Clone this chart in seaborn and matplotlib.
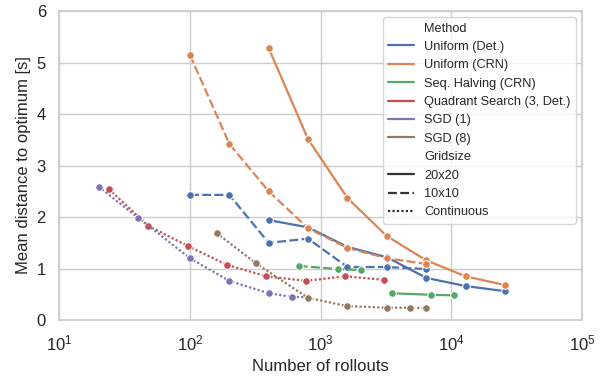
import pandas as pd
import matplotlib
matplotlib.use('Agg')
import matplotlib.pyplot as plt
import seaborn as sns

methods = ['Uniform (Det.)', 'Uniform (CRN)', 'Seq. Halving (CRN)',
           'Quadrant Search (3, Det.)', 'SGD (1)', 'SGD (8)']
gridsizes = ['20x20', '10x10', 'Continuous']

# Uniform (Det.)
unif_det_20_x = [400, 800, 1600, 3200, 6400, 12800, 25600]
unif_det_20_y = [1.94, 1.80, 1.42, 1.22, 0.82, 0.66, 0.56]
unif_det_10_x = [100, 200, 400, 800, 1600, 3200, 6400]
unif_det_10_y = [2.43, 2.43, 1.50, 1.58, 1.03, 1.03, 0.99]

# Uniform (CRN)
unif_crn_20_x = [400, 800, 1600, 3200, 6400, 12800, 25600]
unif_crn_20_y = [5.28, 3.51, 2.37, 1.63, 1.16, 0.85, 0.68]
unif_crn_10_x = [100, 200, 400, 800, 1600, 3200, 6400]
unif_crn_10_y = [5.15, 3.42, 2.50, 1.78, 1.40, 1.20, 1.09]

# Seq. Halving (CRN)
seqh_20_x = [3500, 7000, 10500]
seqh_20_y = [0.52, 0.49, 0.48]
seqh_10_x = [680, 1360, 2040]
seqh_10_y = [1.05, 0.99, 0.97]

# Quadrant Search (3, Det.)
quad_x = [24, 48, 96, 192, 384, 768, 1536, 3072]
quad_y = [2.54, 1.83, 1.44, 1.07, 0.85, 0.76, 0.85, 0.78]

# SGD (1)
sgd1_x = [20, 40, 100, 200, 400, 600, 800]
sgd1_y = [2.59, 1.99, 1.20, 0.76, 0.52, 0.45, 0.44]

# SGD (8)
sgd8_x = [160, 320, 800, 1600, 3200, 4800, 6400]
sgd8_y = [1.69, 1.10, 0.43, 0.27, 0.24, 0.24, 0.23]

series = [
    ('Uniform (Det.)', '20x20', unif_det_20_x, unif_det_20_y),
    ('Uniform (Det.)', '10x10', unif_det_10_x, unif_det_10_y),
    ('Uniform (CRN)', '20x20', unif_crn_20_x, unif_crn_20_y),
    ('Uniform (CRN)', '10x10', unif_crn_10_x, unif_crn_10_y),
    ('Seq. Halving (CRN)', '20x20', seqh_20_x, seqh_20_y),
    ('Seq. Halving (CRN)', '10x10', seqh_10_x, seqh_10_y),
    ('Quadrant Search (3, Det.)', 'Continuous', quad_x, quad_y),
    ('SGD (1)', 'Continuous', sgd1_x, sgd1_y),
    ('SGD (8)', 'Continuous', sgd8_x, sgd8_y),
]

rows = []
for m, g, xs, ys in series:
    for x, y in zip(xs, ys):
        rows.append({'Method': m, 'Gridsize': g, 'rollouts': x, 'dist': y})
df = pd.DataFrame(rows)

sns.set_theme(style='whitegrid')
plt.rcParams['font.family'] = ['Liberation Sans', 'DejaVu Sans']

fig, ax = plt.subplots(figsize=(6.04, 3.81), dpi=100)
sns.lineplot(data=df, x='rollouts', y='dist', hue='Method', style='Gridsize',
             hue_order=methods, style_order=gridsizes, marker='o',
             markersize=5.5, linewidth=1.6, estimator=None, sort=True, ax=ax)
ax.set_xscale('log')
ax.set_xlim(10, 1e5)
ax.set_ylim(0, 6)
ax.set_xlabel('Number of rollouts', fontsize=12)
ax.set_ylabel('Mean distance to optimum [s]', fontsize=12)
ax.tick_params(labelsize=12)

# legend without markers
handles, labels = ax.get_legend_handles_labels()
for h in handles:
    h.set_marker('')
ax.legend(handles, labels, loc='upper right', fontsize=9.2)

fig.subplots_adjust(left=0.098, right=0.964, top=0.971, bottom=0.16)
fig.savefig('out.png', dpi=100)
